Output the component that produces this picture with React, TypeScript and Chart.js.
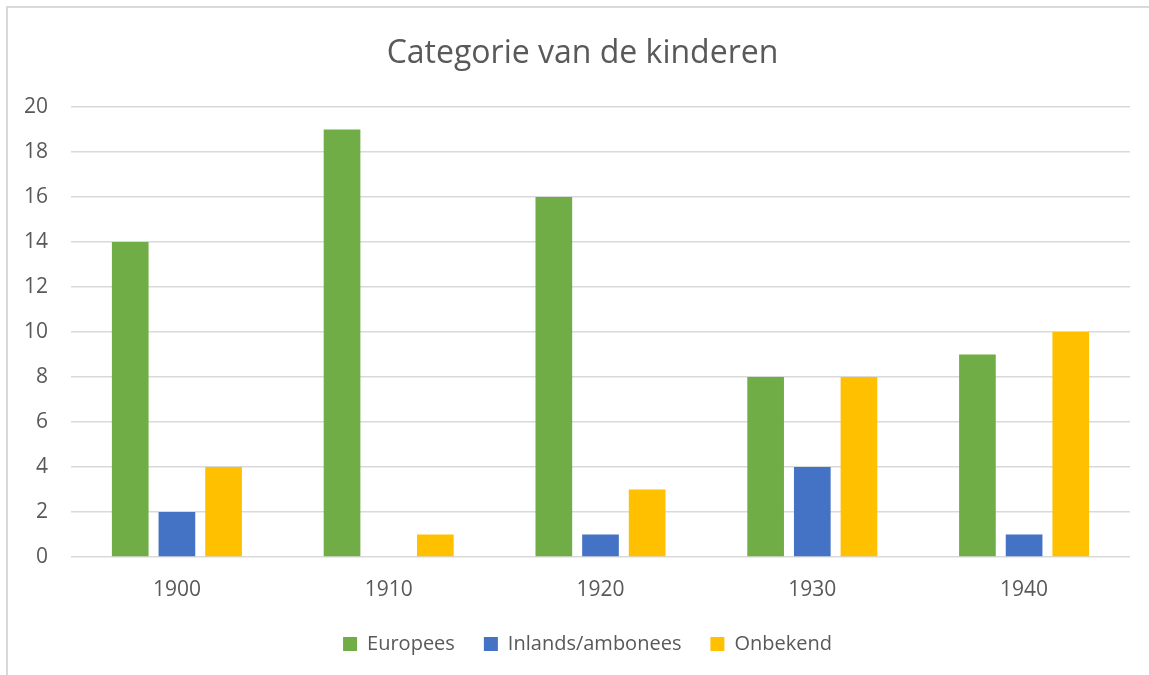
import React, { useEffect, useRef } from "react";
import { Chart, registerables } from "chart.js";

Chart.register(...registerables);

const categories = ["1900", "1910", "1920", "1930", "1940"];
const europees = [14, 19, 16, 8, 9];
const inlands = [2, 0, 1, 4, 1];
const onbekend = [4, 1, 3, 8, 10];
const seriesNames = ["Europees", "Inlands/ambonees", "Onbekend"];
const titleText = "Categorie van de kinderen";

const FONT = "'Open Sans', 'Noto Sans', sans-serif";
const TEXT = "#595959";

// Shifts the centred title and legend boxes slightly to the right, as in the reference.
const shiftPlugin = {
  id: "shiftBoxes",
  afterLayout(chart: any) {
    const t = chart.titleBlock;
    if (t) {
      t.left += 6;
      t.right += 6;
    }
    const l = chart.legend;
    if (l) {
      l.left += 11;
      l.right += 11;
    }
  },
};

export default function App() {
  const ref = useRef<HTMLCanvasElement | null>(null);

  useEffect(() => {
    if (!ref.current) return;
    const chart = new Chart(ref.current, {
      type: "bar",
      data: {
        labels: categories,
        datasets: [
          { label: seriesNames[0], data: europees, backgroundColor: "#70AD47" },
          { label: seriesNames[1], data: inlands, backgroundColor: "#4472C4" },
          { label: seriesNames[2], data: onbekend, backgroundColor: "#FFC000" },
        ].map((d) => ({ ...d, categoryPercentage: 0.661, barPercentage: 0.786 })),
      },
      plugins: [shiftPlugin],
      options: {
        animation: false,
        responsive: false,
        maintainAspectRatio: false,
        layout: { padding: { left: 23, right: 19, top: 0, bottom: 11 } },
        plugins: {
          title: {
            display: true,
            text: titleText,
            color: TEXT,
            font: { family: FONT, size: 32, weight: "normal" },
            padding: { top: 35, bottom: 33.6 },
          },
          legend: {
            position: "bottom",
            labels: {
              color: TEXT,
              font: { family: FONT, size: 20 },
              boxWidth: 14,
              boxHeight: 14,
              padding: 29,
            },
          },
          tooltip: { enabled: false },
        },
        scales: {
          x: {
            grid: { display: false, drawTicks: false },
            border: { display: false },
            ticks: { color: TEXT, font: { family: FONT, size: 21 }, padding: 20 },
            afterFit: (s: any) => {
              s.height = 48;
            },
          },
          y: {
            min: 0,
            max: 20,
            grid: { color: "#d9d9d9", lineWidth: 1.5, drawTicks: false },
            border: { display: false },
            ticks: { stepSize: 2, color: TEXT, font: { family: FONT, size: 21 }, padding: 23 },
            afterFit: (s: any) => {
              s.width = 48;
            },
          },
        },
      },
    });
    return () => chart.destroy();
  }, []);

  return (
    <div style={{ position: "fixed", left: 0, top: 0, width: 1149, height: 675, background: "#fff", overflow: "hidden" }}>
      <div
        style={{
          position: "absolute",
          left: 6,
          top: 6,
          width: 1200,
          height: 720,
          border: "2px solid #d9d9d9",
          boxSizing: "border-box",
        }}
      />
      <canvas ref={ref} width={1149} height={675} style={{ position: "absolute", left: 0, top: 0 }} />
    </div>
  );
}
